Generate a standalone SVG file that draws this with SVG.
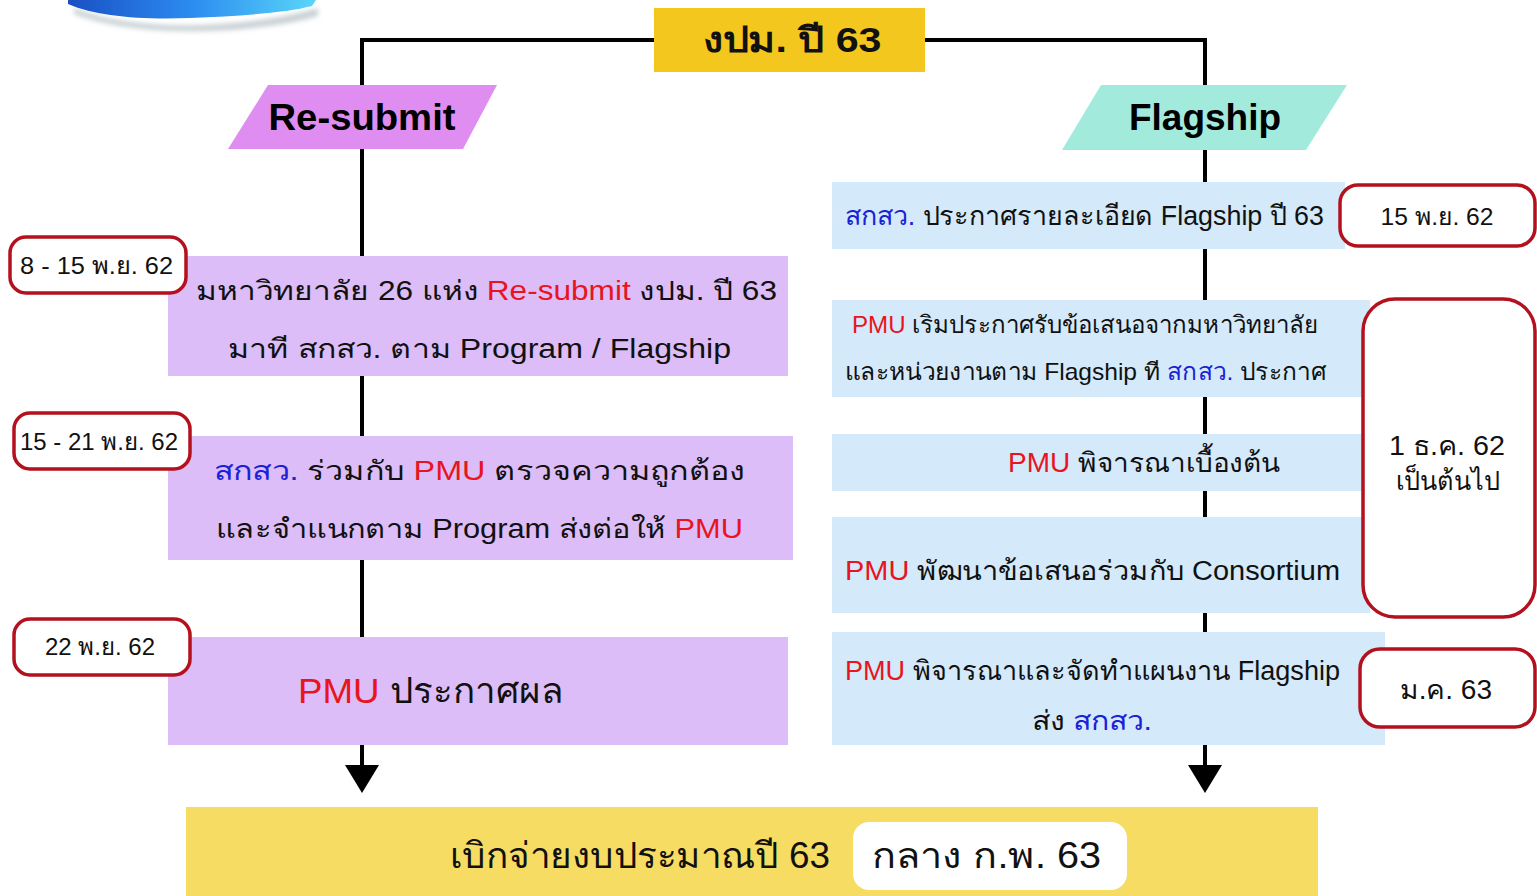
<svg xmlns="http://www.w3.org/2000/svg" width="1537" height="896" viewBox="0 0 1537 896">
<defs>
<linearGradient id="swoosh" x1="0" y1="0" x2="1" y2="0">
<stop offset="0" stop-color="#1A4FC4"/>
<stop offset="0.5" stop-color="#2C8CF0"/>
<stop offset="1" stop-color="#5AD6F8"/>
</linearGradient>
<filter id="blur" x="-10%" y="-50%" width="120%" height="200%"><feGaussianBlur stdDeviation="2.5"/></filter>
</defs>
<style>
text{font-family:"Liberation Sans","Noto Sans",sans-serif;fill:#111;}
.t{font-size:27px;}
.d{font-size:24px;}
.big{font-size:36px;font-weight:bold;}
.r{fill:#E8141E;}
.b{fill:#1B22D6;}
.lav{fill:#DCBDF7;}
.sky{fill:#D4E9FA;}
.date{fill:#fff;stroke:#B3111E;stroke-width:3.5;}
.line{fill:none;stroke:#000;stroke-width:4;}
.head{fill:#000;}
</style>
<rect width="1537" height="896" fill="#fff"/>

<g id="decoration">
<path d="M74,8 C110,22 160,27 205,25 C250,23 290,16 318,8 L318,16 C290,24 250,30 205,31 C160,32 110,28 74,14 Z" fill="#C8D0D4" filter="url(#blur)"/>
<path d="M68,0 L316,0 L312,6 C285,13 240,16 190,18 C140,20 95,16 68,4 Z" fill="url(#swoosh)"/>
</g>

<g id="connectors">
<polyline class="line" points="654,40 362,40 362,766"/>
<polyline class="line" points="925,40 1205,40 1205,766"/>
<path d="M345,765 L379,765 L362,793 Z" fill="#000"/>
<path d="M1188,765 L1222,765 L1205,793 Z" fill="#000"/>
</g>

<g id="title">
<rect x="654" y="8" width="271" height="64" fill="#F3C71E"/>
<text x="792" y="52" text-anchor="middle" font-size="35" font-weight="bold" textLength="179" lengthAdjust="spacingAndGlyphs">งปม. ปี 63</text>
</g>

<g id="resubmit">
<polygon points="228,149 268,85 497,85 463,149" fill="#E08DF1"/>
<text x="362" y="130" text-anchor="middle" class="big head" textLength="187" lengthAdjust="spacingAndGlyphs">Re-submit</text>
</g>

<g id="flagship">
<polygon points="1062,150 1101,85 1347,85 1306,150" fill="#A2EBDC"/>
<text x="1205" y="130" text-anchor="middle" class="big head" textLength="152" lengthAdjust="spacingAndGlyphs">Flagship</text>
</g>

<g id="left1">
<rect class="lav" x="168" y="256" width="620" height="120"/>
<text class="t" x="196" y="300" textLength="581" lengthAdjust="spacingAndGlyphs">มหาวิทยาลัย 26 แห่ง <tspan class="r">Re-submit</tspan> งปม. ปี 63</text>
<text class="t" x="228" y="358" textLength="503" lengthAdjust="spacingAndGlyphs">มาที สกสว. ตาม Program / Flagship</text>
</g>
<g id="date1">
<rect class="date" x="10" y="237" width="176" height="56" rx="16"/>
<text class="d" x="20" y="274" textLength="153" lengthAdjust="spacingAndGlyphs">8 - 15 พ.ย. 62</text>
</g>

<g id="left2">
<rect class="lav" x="168" y="436" width="625" height="124"/>
<text class="t" x="214" y="480" textLength="531" lengthAdjust="spacingAndGlyphs"><tspan class="b">สกสว.</tspan> ร่วมกับ  <tspan class="r">PMU</tspan> ตรวจความถูกต้อง</text>
<text class="t" x="216" y="538" textLength="527" lengthAdjust="spacingAndGlyphs">และจำแนกตาม Program ส่งต่อให้ <tspan class="r">PMU</tspan></text>
</g>
<g id="date2">
<rect class="date" x="14" y="413" width="176" height="56" rx="16"/>
<text class="d" x="20" y="450" textLength="158" lengthAdjust="spacingAndGlyphs">15 - 21 พ.ย. 62</text>
</g>

<g id="left3">
<rect class="lav" x="168" y="637" width="620" height="108"/>
<text x="298" y="703" font-size="35" textLength="265" lengthAdjust="spacingAndGlyphs"><tspan class="r">PMU</tspan> ประกาศผล</text>
</g>
<g id="date3">
<rect class="date" x="14" y="619" width="176" height="56" rx="16"/>
<text class="d" x="100" y="655" text-anchor="middle" textLength="110" lengthAdjust="spacingAndGlyphs">22 พ.ย. 62</text>
</g>

<g id="right1">
<rect class="sky" x="832" y="182" width="513" height="67"/>
<text class="t" x="845" y="225" textLength="479" lengthAdjust="spacingAndGlyphs"><tspan class="b">สกสว.</tspan> ประกาศรายละเอียด Flagship ปี 63</text>
</g>
<g id="date4">
<rect class="date" x="1340" y="185" width="195" height="61" rx="18"/>
<text class="d" x="1437" y="225" text-anchor="middle" textLength="113" lengthAdjust="spacingAndGlyphs">15 พ.ย. 62</text>
</g>

<g id="right2">
<rect class="sky" x="832" y="300" width="538" height="97"/>
<text class="d" x="852" y="333" textLength="466" lengthAdjust="spacingAndGlyphs"><tspan class="r">PMU</tspan> เริมประกาศรับข้อเสนอจากมหาวิทยาลัย</text>
<text class="d" x="845" y="380" textLength="481" lengthAdjust="spacingAndGlyphs">และหน่วยงานตาม Flagship ที <tspan class="b">สกสว.</tspan> ประกาศ</text>
</g>

<g id="right3">
<rect class="sky" x="832" y="434" width="538" height="57"/>
<text class="t" x="1008" y="472" textLength="272" lengthAdjust="spacingAndGlyphs"><tspan class="r">PMU</tspan> พิจารณาเบื้องต้น</text>
</g>

<g id="right4">
<rect class="sky" x="832" y="517" width="538" height="96"/>
<text class="t" x="845" y="580" textLength="495" lengthAdjust="spacingAndGlyphs"><tspan class="r">PMU</tspan> พัฒนาข้อเสนอร่วมกับ Consortium</text>
</g>

<g id="date5">
<rect class="date" x="1363" y="299" width="172" height="318" rx="32"/>
<text class="t" x="1447" y="455" text-anchor="middle" textLength="116" lengthAdjust="spacingAndGlyphs">1 ธ.ค. 62</text>
<text class="t" x="1448" y="490" text-anchor="middle" textLength="104" lengthAdjust="spacingAndGlyphs">เป็นต้นไป</text>
</g>

<g id="right5">
<rect class="sky" x="832" y="632" width="553" height="113"/>
<text class="t" x="845" y="680" textLength="495" lengthAdjust="spacingAndGlyphs"><tspan class="r">PMU</tspan> พิจารณาและจัดทำแผนงาน Flagship</text>
<text class="t" x="1092" y="730" text-anchor="middle" textLength="120" lengthAdjust="spacingAndGlyphs">ส่ง <tspan class="b">สกสว.</tspan></text>
</g>
<g id="date6">
<rect class="date" x="1360" y="649" width="175" height="78" rx="20"/>
<text class="t" x="1446" y="699" text-anchor="middle" textLength="92" lengthAdjust="spacingAndGlyphs">ม.ค. 63</text>
</g>

<g id="bottom">
<rect x="186" y="807" width="1132" height="89" fill="#F6DC62"/>
<text x="450" y="868" font-size="36" textLength="380" lengthAdjust="spacingAndGlyphs">เบิกจ่ายงบประมาณปี 63</text>
<rect x="853" y="822" width="274" height="68" rx="16" fill="#fff"/>
<text x="872" y="868" font-size="36" textLength="229" lengthAdjust="spacingAndGlyphs">กลาง ก.พ. 63</text>
</g>
</svg>
